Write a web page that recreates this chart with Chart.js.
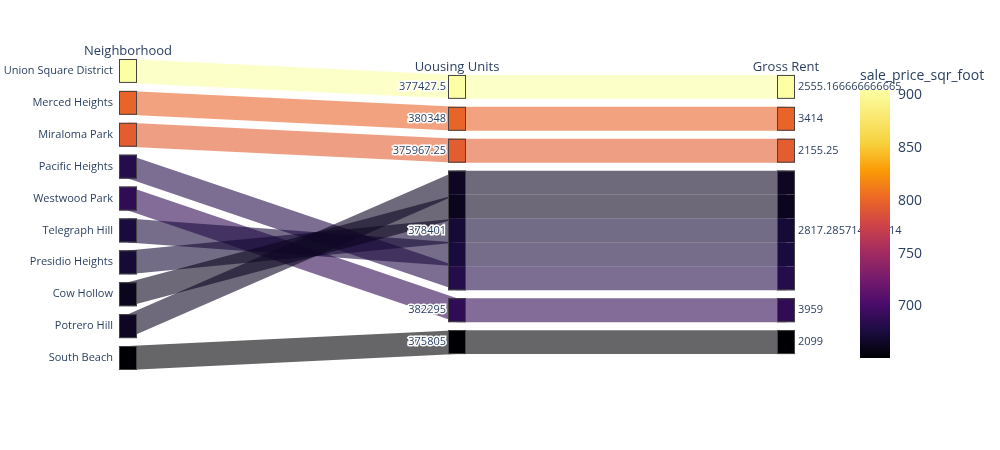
<!DOCTYPE html>
<html><head><meta charset="utf-8">
<script src="https://cdn.jsdelivr.net/npm/chart.js@4"></script>
<style>html,body{margin:0;padding:0;background:#fff}#w{width:1000px;height:450px}</style>
</head><body><div id="w"><canvas id="c"></canvas></div>
<script>
const neighborhoods=["Union Square District","Merced Heights","Miraloma Park","Pacific Heights","Westwood Park","Telegraph Hill","Presidio Heights","Cow Hollow","Potrero Hill","South Beach"];
const housingUnits=[377427.5,380348,375967.25,378401,382295,378401,378401,378401,378401,375805];
const grossRent=[2555.166666666665,3414,2155.25,2817.285714285714,3959,2817.285714285714,2817.285714285714,2817.285714285714,2817.285714285714,2099];
const salePrice=[905,800,795,682,688,675,672,662,664,651];
const dimTitles=["Neighborhood","Uousing Units","Gross Rent"];
const colorTicks=[700,750,800,850,900];
const cMin=651,cMax=905;
const inferno=[[0,[0,0,4]],[0.1,[27,12,65]],[0.2,[74,12,107]],[0.3,[120,28,109]],[0.4,[165,44,96]],[0.5,[207,68,70]],[0.6,[237,105,37]],[0.7,[251,155,6]],[0.8,[247,209,61]],[1,[252,255,164]]];
function col(v,a){let t=Math.max(0,Math.min(1,(v-cMin)/(cMax-cMin)));for(let i=1;i<inferno.length;i++){if(t<=inferno[i][0]){const[a0,c0]=inferno[i-1],[a1,c1]=inferno[i];const f=(t-a0)/(a1-a0);const c=c0.map((x,k)=>Math.round(x+(c1[k]-x)*f));return `rgba(${c[0]},${c[1]},${c[2]},${a})`;}}return `rgba(252,255,164,${a})`;}
const GAP=1/3;
function uniq(a){return [...new Set(a)];}
const dims=[neighborhoods,housingUnits,grossRent];
// compute unit positions per axis for each record
function layoutAxis(vals){
  const cats=uniq(vals);const n=vals.length;
  const total=n+(cats.length-1)*GAP;const off=(n+(neighborhoods.length-1)*GAP-total)/2;
  const pos=new Array(n);const catInfo=[];let y=off;
  cats.forEach((c,ci)=>{const idx=[];vals.forEach((v,i)=>{if(v===c)idx.push(i);});idx.sort((a,b)=>b-a);
    const top=y;idx.forEach(i=>{pos[i]=y;y+=1;});catInfo.push({label:c,top:top,bot:y});y+=GAP;});
  return {pos,catInfo};
}
const layouts=dims.map(layoutAxis);
const plugin={id:'pc',afterDatasetsDraw(ch){
  const ctx=ch.ctx,xs=ch.scales.x,ys=ch.scales.y;const W=9;
  const X=[0,1,2].map(i=>xs.getPixelForValue(i));
  // ribbons
  for(let i=0;i<neighborhoods.length;i++){
    for(let d=0;d<2;d++){
      const y0=layouts[d].pos[i],y1=layouts[d+1].pos[i];
      ctx.beginPath();
      ctx.moveTo(X[d],ys.getPixelForValue(y0));ctx.lineTo(X[d+1],ys.getPixelForValue(y1));
      ctx.lineTo(X[d+1],ys.getPixelForValue(y1+1));ctx.lineTo(X[d],ys.getPixelForValue(y0+1));ctx.closePath();
      ctx.fillStyle=col(salePrice[i],0.6);ctx.fill();
    }
  }
  // blocks
  for(let d=0;d<3;d++){
    for(let i=0;i<neighborhoods.length;i++){
      const p=layouts[d].pos[i];const t=ys.getPixelForValue(p),b=ys.getPixelForValue(p+1);
      ctx.fillStyle=col(salePrice[i],1);ctx.fillRect(X[d]-W,t,2*W,b-t);
    }
    ctx.strokeStyle='rgba(68,68,68,1)';ctx.lineWidth=1;
    layouts[d].catInfo.forEach(c=>{const t=ys.getPixelForValue(c.top),b=ys.getPixelForValue(c.bot);ctx.strokeRect(X[d]-W+0.5,t+0.5,2*W-1,b-t-1);});
  }
  // labels
  ctx.font='11px "Open Sans"';ctx.textBaseline='middle';
  layouts.forEach((L,d)=>{L.catInfo.forEach(c=>{const y=(ys.getPixelForValue(c.top)+ys.getPixelForValue(c.bot))/2;
    const txt=String(c.label);
    if(d===2){ctx.textAlign='left';ctx.fillStyle='#2a3f5f';ctx.fillText(txt,X[d]+W+3,y);}
    else{ctx.textAlign='right';const x=X[d]-W-(d===0?6:2);
      if(d===1){ctx.lineWidth=3;ctx.strokeStyle='#fff';ctx.strokeText(txt,x,y);}
      ctx.fillStyle='#2a3f5f';ctx.fillText(txt,x,y);}
  });});
  // titles
  ctx.font='13px "Open Sans"';ctx.textAlign='center';ctx.textBaseline='alphabetic';ctx.fillStyle='#2a3f5f';
  dimTitles.forEach((t,d)=>{const top=ys.getPixelForValue(layouts[d].catInfo[0].top);ctx.fillText(t,X[d],top-4);});
  // colorbar
  const cx=860,cw=30,ct=90,cb=358;
  const g=ctx.createLinearGradient(0,cb,0,ct);inferno.forEach(s=>g.addColorStop(s[0],`rgb(${s[1].join(',')})`));
  ctx.fillStyle=g;ctx.fillRect(cx,ct,cw,cb-ct);
  ctx.font='14px "Open Sans"';ctx.textAlign='left';ctx.textBaseline='middle';ctx.fillStyle='#2a3f5f';
  colorTicks.forEach(v=>{const y=cb-(v-cMin)/(cMax-cMin)*(cb-ct);ctx.fillText(String(v),cx+cw+8,y);});
  ctx.textBaseline='alphabetic';ctx.fillText('sale_price_sqr_foot',cx,80);
}};
new Chart(document.getElementById('c'),{type:'scatter',data:{datasets:[{data:[],pointRadius:0}]},
 options:{responsive:true,maintainAspectRatio:false,animation:false,
  layout:{padding:{left:128,right:214,top:59,bottom:80}},
  plugins:{legend:{display:false},tooltip:{enabled:false}},
  scales:{x:{type:'linear',min:0,max:2,display:false},y:{type:'linear',min:0,max:10+9*GAP,reverse:true,display:false}}},
 plugins:[plugin]});
</script></body></html>
